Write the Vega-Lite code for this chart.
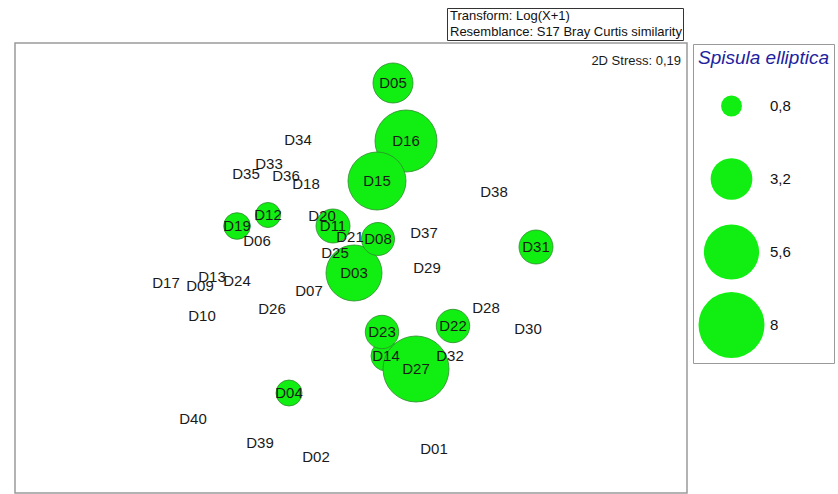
{
  "$schema": "https://vega.github.io/schema/vega-lite/v6.json",
  "width": 672,
  "height": 450,
  "autosize": {"type": "none"},
  "padding": {"left": 15, "top": 43, "right": 151, "bottom": 1},
  "background": "white",
  "config": {
    "view": {"stroke": "#9a9a9a", "strokeWidth": 1.5},
    "font": "Liberation Sans"
  },
  "datasets": {
    "samples": [
      {"sample": "D01", "mds1": 419, "mds2": 44, "spisula": 0},
      {"sample": "D02", "mds1": 301, "mds2": 36, "spisula": 0},
      {"sample": "D03", "mds1": 339, "mds2": 220, "spisula": 5.76},
      {"sample": "D04", "mds1": 274, "mds2": 100, "spisula": 1.24},
      {"sample": "D05", "mds1": 378, "mds2": 410, "spisula": 2.94},
      {"sample": "D06", "mds1": 242, "mds2": 252, "spisula": 0},
      {"sample": "D07", "mds1": 294, "mds2": 202, "spisula": 0},
      {"sample": "D08", "mds1": 363, "mds2": 254, "spisula": 2.0},
      {"sample": "D09", "mds1": 185, "mds2": 207, "spisula": 0},
      {"sample": "D10", "mds1": 187, "mds2": 177, "spisula": 0},
      {"sample": "D11", "mds1": 318, "mds2": 267, "spisula": 2.12},
      {"sample": "D12", "mds1": 253, "mds2": 278, "spisula": 1.15},
      {"sample": "D13", "mds1": 197, "mds2": 216, "spisula": 0},
      {"sample": "D14", "mds1": 371, "mds2": 137, "spisula": 1.65},
      {"sample": "D16", "mds1": 391, "mds2": 352, "spisula": 7.06},
      {"sample": "D15", "mds1": 362, "mds2": 312, "spisula": 6.18},
      {"sample": "D17", "mds1": 151, "mds2": 210, "spisula": 0},
      {"sample": "D18", "mds1": 291, "mds2": 309, "spisula": 0},
      {"sample": "D19", "mds1": 222, "mds2": 267, "spisula": 1.3},
      {"sample": "D20", "mds1": 307, "mds2": 277, "spisula": 0},
      {"sample": "D21", "mds1": 335, "mds2": 256, "spisula": 0},
      {"sample": "D22", "mds1": 438, "mds2": 167, "spisula": 2.05},
      {"sample": "D23", "mds1": 367, "mds2": 161, "spisula": 2.05},
      {"sample": "D24", "mds1": 222, "mds2": 212, "spisula": 0},
      {"sample": "D25", "mds1": 320, "mds2": 240, "spisula": 0},
      {"sample": "D26", "mds1": 257, "mds2": 184, "spisula": 0},
      {"sample": "D27", "mds1": 401, "mds2": 124, "spisula": 8.0},
      {"sample": "D28", "mds1": 471, "mds2": 185, "spisula": 0},
      {"sample": "D29", "mds1": 412, "mds2": 225, "spisula": 0},
      {"sample": "D30", "mds1": 513, "mds2": 164, "spisula": 0},
      {"sample": "D31", "mds1": 521, "mds2": 246, "spisula": 2.12},
      {"sample": "D32", "mds1": 435, "mds2": 137, "spisula": 0},
      {"sample": "D33", "mds1": 254, "mds2": 329, "spisula": 0},
      {"sample": "D34", "mds1": 283, "mds2": 353, "spisula": 0},
      {"sample": "D35", "mds1": 231, "mds2": 319, "spisula": 0},
      {"sample": "D36", "mds1": 271, "mds2": 317, "spisula": 0},
      {"sample": "D37", "mds1": 409, "mds2": 260, "spisula": 0},
      {"sample": "D38", "mds1": 479, "mds2": 301, "spisula": 0},
      {"sample": "D39", "mds1": 245, "mds2": 50, "spisula": 0},
      {"sample": "D40", "mds1": 178, "mds2": 74, "spisula": 0}
    ],
    "stress": [
      {"label": "2D Stress: 0,19", "mds1": 666, "mds2": 432}
    ],
    "notes": [
      {"note": "Transform: Log(X+1)", "mds1": 600, "mds2": 20},
      {"note": "Resemblance: S17 Bray Curtis similarity", "mds1": 600, "mds2": 20}
    ]
  },
  "layer": [
    {
      "data": {"name": "samples"},
      "transform": [{"filter": "datum.spisula > 0"}],
      "mark": {"type": "point", "filled": true, "fill": "#11ee11", "stroke": "#2e8b2e", "strokeWidth": 0.8, "opacity": 1, "shape": "circle"},
      "encoding": {
        "x": {"field": "mds1", "type": "quantitative", "scale": {"domain": [0, 672], "zero": false, "nice": false}, "axis": null},
        "y": {"field": "mds2", "type": "quantitative", "scale": {"domain": [0, 450], "zero": false, "nice": false}, "axis": null},
        "size": {
          "field": "spisula", "type": "quantitative",
          "scale": {"type": "linear", "domain": [0, 8], "range": [0, 4356], "zero": true},
          "legend": {
            "orient": "none", "legendX": 678, "legendY": 1,
            "title": "Spisula elliptica",
            "titleFont": "Liberation Sans", "titleFontStyle": "italic", "titleFontSize": 19, "titleFontWeight": "normal", "titleColor": "#1e1e9e",
            "titlePadding": 5,
            "values": [0.8, 3.2, 5.6, 8],
            "labelExpr": "replace(format(datum.value, ''), '.', ',')",
            "labelFont": "Liberation Sans", "labelFontSize": 15, "labelColor": "#111111", "labelOffset": 5,
            "symbolType": "circle", "symbolFillColor": "#11ee11", "symbolStrokeColor": "#2e8b2e", "symbolStrokeWidth": 0.8, "symbolOpacity": 1,
            "clipHeight": 66, "rowPadding": 7, "padding": 5,
            "strokeColor": "#999999", "fillColor": "white"
          }
        }
      }
    },
    {
      "data": {"name": "samples"},
      "mark": {"type": "text", "fontSize": 15, "font": "Liberation Sans", "align": "center", "baseline": "middle", "color": "#1a1a1a"},
      "encoding": {
        "x": {"field": "mds1", "type": "quantitative"},
        "y": {"field": "mds2", "type": "quantitative"},
        "text": {"field": "sample", "type": "nominal"}
      }
    },
    {
      "data": {"name": "stress"},
      "mark": {"type": "text", "fontSize": 13, "font": "Liberation Sans", "align": "right", "baseline": "middle", "color": "#1a1a1a"},
      "encoding": {
        "x": {"field": "mds1", "type": "quantitative"},
        "y": {"field": "mds2", "type": "quantitative"},
        "text": {"field": "label", "type": "nominal"}
      }
    },
    {
      "data": {"name": "notes"},
      "mark": {"type": "point", "opacity": 0},
      "encoding": {
        "x": {"field": "mds1", "type": "quantitative"},
        "y": {"field": "mds2", "type": "quantitative"},
        "shape": {
          "field": "note", "type": "nominal",
          "scale": {"domain": ["Transform: Log(X+1)", "Resemblance: S17 Bray Curtis similarity"], "range": ["circle", "circle"]},
          "legend": {
            "orient": "none", "legendX": 432, "legendY": -35,
            "title": null,
            "symbolSize": 0, "symbolOpacity": 0, "symbolStrokeWidth": 0,
            "labelFont": "Liberation Sans", "labelFontSize": 13, "labelColor": "#111111", "labelOffset": -11, "labelLimit": 400,
            "padding": 1, "rowPadding": 2,
            "strokeColor": "#333333", "fillColor": "white"
          }
        }
      }
    }
  ]
}
